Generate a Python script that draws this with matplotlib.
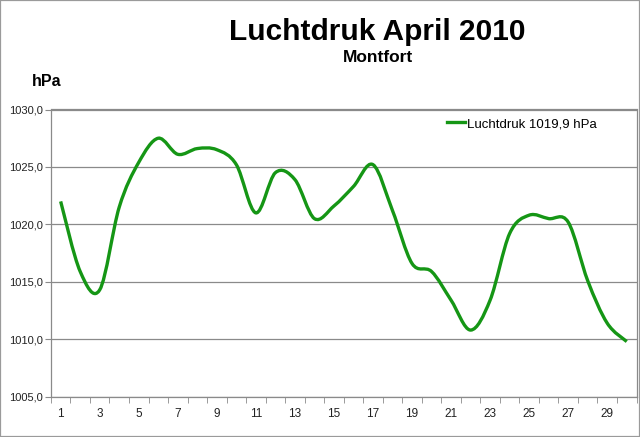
import matplotlib
matplotlib.use('Agg')
import matplotlib.pyplot as plt
from matplotlib.path import Path
from matplotlib.patches import PathPatch, Rectangle
from matplotlib.lines import Line2D
from matplotlib.ticker import FuncFormatter, FixedLocator
import numpy as np

plt.rcParams['font.family'] = ['Liberation Sans', 'DejaVu Sans']

# luchtdruk per dag, april 2010 (hPa)
days = list(range(1, 31))
pressure = [1022.0, 1015.9, 1014.3, 1021.5, 1025.4, 1027.5, 1026.1, 1026.6, 1026.5, 1025.2,
            1021.0, 1024.5, 1023.9, 1020.5, 1021.6, 1023.3, 1025.2, 1021.2, 1016.6, 1015.9,
            1013.4, 1010.8, 1013.4, 1019.2, 1020.8, 1020.5, 1020.2, 1015.1, 1011.4, 1009.8]
y_ticks = [1005, 1010, 1015, 1020, 1025, 1030]
x_labels = list(range(1, 31, 2))
legend_label = "Luchtdruk 1019,9 hPa"

green = '#159615'
grid_gray = '#8a8a8a'

fig = plt.figure(figsize=(6.4, 4.37), dpi=100)
ax = fig.add_axes([50.9/640, 1-396.7/437, (636.5-50.9)/640, (396.7-109.5)/437])


def smooth_path(xs, ys):
    # excel-achtige afvlakking: bezier met catmull-rom controlepunten
    pts = np.column_stack([xs, ys]).astype(float)
    n = len(pts)
    verts = [pts[0]]
    codes = [Path.MOVETO]
    for i in range(n - 1):
        p0 = pts[i-1] if i > 0 else pts[i]
        p1 = pts[i]
        p2 = pts[i+1]
        p3 = pts[i+2] if i + 2 < n else pts[i+1]
        c1 = p1 + (p2 - p0) / 6.0
        c2 = p2 - (p3 - p1) / 6.0
        verts += [c1, c2, p2]
        codes += [Path.CURVE4] * 3
    return Path(verts, codes)


patch = PathPatch(smooth_path(days, pressure), fill=False, edgecolor=green, lw=2.4,
                  capstyle='butt', joinstyle='round', zorder=3)
ax.add_patch(patch)

ax.set_xlim(0.5, 30.5)
ax.set_ylim(1005, 1030)

ax.set_yticks(y_ticks)
ax.yaxis.set_major_formatter(FuncFormatter(lambda v, p: ('%.1f' % v).replace('.', ',')))
ax.grid(axis='y', color=grid_gray, lw=0.9)
ax.set_axisbelow(True)

ax.xaxis.set_major_locator(FixedLocator(x_labels))
ax.xaxis.set_minor_locator(FixedLocator(np.arange(0.5, 31, 1.0)))
ax.tick_params(axis='x', which='major', length=0, pad=8, labelsize=8.5, labelcolor='#222222')
ax.tick_params(axis='x', which='minor', length=4, direction='out', color=grid_gray)
ax.tick_params(axis='y', length=4, direction='out', color=grid_gray, labelsize=8,
               labelcolor='#222222', pad=2)

for s in ax.spines.values():
    s.set_color(grid_gray)
    s.set_linewidth(0.9)

handle = Line2D([], [], color=green, lw=2.4)
fig.legend([handle], [legend_label], loc='center left',
           bbox_to_anchor=(447/640, 1-124/437), frameon=False, fontsize=9.5,
           handlelength=1.4, handletextpad=0.15, borderpad=0, borderaxespad=0)

fig.text(377/640, 1-32/437, "Luchtdruk April 2010", ha='center', va='center',
         fontsize=21.5, fontweight='bold')
fig.text(378/640, 1-58/437, "Montfort", ha='center', va='center',
         fontsize=12.5, fontweight='bold')
fig.text(47/640, 1-82/437, "hPa", ha='center', va='center',
         fontsize=11.5, fontweight='bold')

fig.patches.append(Rectangle((0, 0), 1, 1, transform=fig.transFigure, fill=False,
                             ec='#9a9a9a', lw=1.6))

plt.savefig('out.png', dpi=100)
